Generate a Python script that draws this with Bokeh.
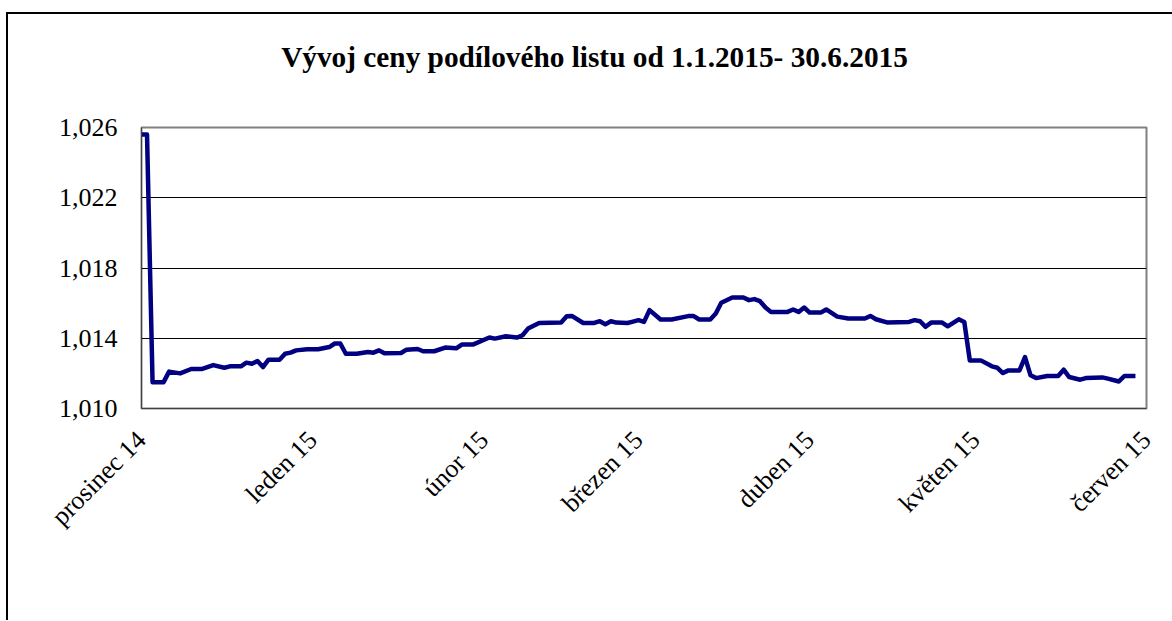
import math
from bokeh.plotting import figure
from bokeh.models import Range1d, FixedTicker, CustomJSTickFormatter, Spacer, Div
from bokeh.layouts import column, row
from bokeh.embed import file_html
from bokeh.resources import INLINE

# Data: day offset on the date axis and unit price
days = [0, 1, 2, 4, 5, 7, 9, 11, 13, 15, 16, 18, 19, 20, 21, 22, 23, 25, 26, 27,
        28, 30, 32, 34, 35, 36, 37, 39, 41, 42, 43, 44, 47, 48, 50, 51, 53, 55, 57, 58,
        60, 63, 64, 66, 68, 69, 70, 72, 76, 77, 78, 80, 82, 83, 84, 85, 86, 88, 89, 90,
        91, 92, 94, 96, 99, 100, 101, 103, 104, 105, 107, 109, 110, 111, 112, 113, 114, 117, 118, 119,
        120, 121, 123, 124, 126, 128, 131, 132, 133, 135, 139, 140, 141, 142, 143, 145, 146, 148, 149, 150,
        152, 154, 155, 156, 157, 159, 160, 161, 162, 164, 166, 167, 168, 170, 171, 174, 175, 177, 178, 180]
price = [1.0256, 1.0256, 1.0115, 1.0115, 1.0121, 1.0120, 1.01225, 1.01225, 1.01247, 1.01232,
         1.0124, 1.0124, 1.01261, 1.01255, 1.0127, 1.01236, 1.01278, 1.01278, 1.01312, 1.01318,
         1.01331, 1.01337, 1.01337, 1.0135, 1.0137, 1.0137, 1.01312, 1.01312, 1.01322, 1.01318,
         1.01331, 1.01314, 1.01316, 1.01335, 1.01339, 1.01326, 1.01326, 1.01347, 1.01343, 1.01364,
         1.01364, 1.01404, 1.01398, 1.01411, 1.01404, 1.01417, 1.01455, 1.01487, 1.0149, 1.01525,
         1.01526, 1.01487, 1.01487, 1.01497, 1.0148, 1.01497, 1.01489, 1.01487, 1.01495, 1.01503,
         1.01493, 1.0156, 1.01507, 1.01507, 1.01526, 1.01526, 1.01507, 1.01507, 1.01541, 1.01602,
         1.01632, 1.01632, 1.01617, 1.01623, 1.01611, 1.01575, 1.0155, 1.0155, 1.01564, 1.0155,
         1.01575, 1.01546, 1.01546, 1.01564, 1.01523, 1.01512, 1.01512, 1.01527, 1.01508, 1.0149,
         1.01493, 1.01503, 1.01497, 1.01465, 1.01489, 1.01489, 1.01468, 1.01508, 1.01493, 1.01274,
         1.01274, 1.0124, 1.01232, 1.01202, 1.01217, 1.01217, 1.01293, 1.01189, 1.01173, 1.01185,
         1.01185, 1.01221, 1.01179, 1.01164, 1.01173, 1.01177, 1.0117, 1.01154, 1.01185, 1.01185]
assert len(days) == len(price)

month_pos = [0, 31, 62, 90, 121, 151, 182]
month_labels = ["prosinec 14", "leden 15", "únor 15", "březen 15",
                "duben 15", "květen 15", "červen 15"]
y_ticks = [1.010, 1.014, 1.018, 1.022, 1.026]
title_text = "Vývoj ceny podílového listu od 1.1.2015- 30.6.2015"

FONT = "Liberation Serif"
TITLE_H = 77

title_div = Div(text=title_text, width=1163, height=TITLE_H,
                styles={"font-family": FONT, "font-size": "29.3px", "font-weight": "bold",
                        "color": "black", "text-align": "center",
                        "line-height": f"{TITLE_H}px"})

p = figure(width=1163, height=519,
           x_range=Range1d(0, 182), y_range=Range1d(1.010, 1.026),
           output_backend="svg", toolbar_location=None,
           min_border_left=133, min_border_right=25,
           min_border_top=26, min_border_bottom=212)

p.line(days, price, line_color="#000080", line_width=4.5, line_join="round")

p.outline_line_color = "#808080"
p.outline_line_width = 2

p.xgrid.visible = False
p.ygrid.ticker = FixedTicker(ticks=y_ticks)
p.ygrid.grid_line_color = "black"
p.ygrid.grid_line_width = 1

p.yaxis.ticker = FixedTicker(ticks=y_ticks)
p.yaxis.formatter = CustomJSTickFormatter(code="return tick.toFixed(3).replace('.', ',');")
p.yaxis.major_label_text_font = FONT
p.yaxis.major_label_text_font_size = "26px"
p.yaxis.major_label_text_color = "black"
p.yaxis.major_label_standoff = 24
p.yaxis.major_tick_out = 0
p.yaxis.major_tick_in = 0
p.yaxis.minor_tick_out = 0
p.yaxis.minor_tick_in = 0
p.yaxis.axis_line_color = "#404040"

p.xaxis.ticker = FixedTicker(ticks=month_pos)
p.xaxis.major_label_overrides = {pos: lab for pos, lab in zip(month_pos, month_labels)}
p.xaxis.major_label_orientation = math.pi / 4
p.xaxis.major_label_text_font = FONT
p.xaxis.major_label_text_font_size = "26px"
p.xaxis.major_label_text_color = "black"
p.xaxis.major_label_standoff = 27
p.xaxis.major_tick_out = 0
p.xaxis.major_tick_in = 0
p.xaxis.minor_tick_out = 0
p.xaxis.minor_tick_in = 0
p.xaxis.axis_line_color = "#404040"

box = column(title_div, p,
             styles={"border-top": "2px solid black", "border-left": "2px solid black"})

layout = column(Spacer(width=1169, height=12), row(Spacer(width=6, height=607), box))

open("out.html", "w").write(file_html(layout, INLINE))
